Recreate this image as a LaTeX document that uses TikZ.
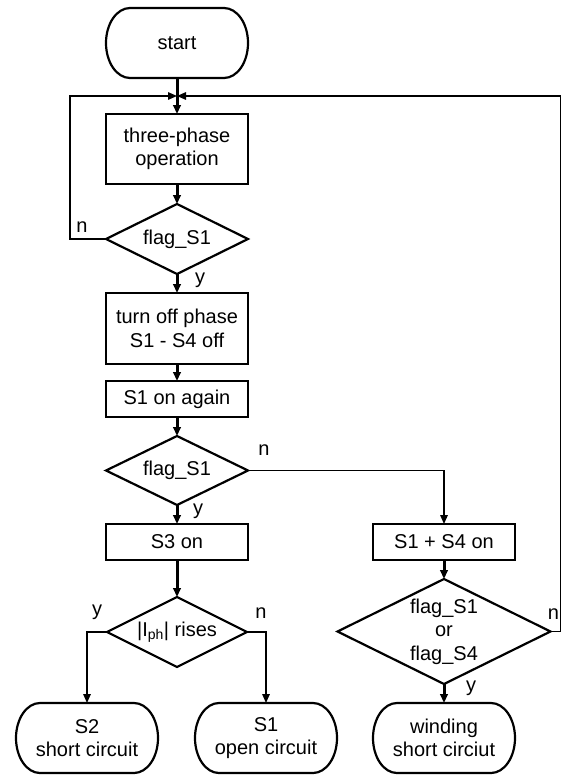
\documentclass[tikz,border=0pt]{standalone}
\usepackage{fontspec}
\setmainfont{Liberation Sans}
\usetikzlibrary{positioning,shapes.geometric,arrows.meta}
\tikzset{box node/.style={rectangle, draw, line width=1.8pt, outer sep=0pt, minimum width=142pt, minimum height=36pt, align=center, inner sep=2pt},
  term node/.style={rectangle, outer sep=0pt, minimum width=142pt, minimum height=70pt, align=center,
    append after command={\pgfextra{\draw[line width=2.2pt]
      ([xshift=-47pt]\tikzlastnode.north) -- ([xshift=47pt]\tikzlastnode.north)
      arc[start angle=90, end angle=-90, x radius=24pt, y radius=35pt]
      -- ([xshift=-47pt]\tikzlastnode.south)
      arc[start angle=270, end angle=90, x radius=24pt, y radius=35pt] -- cycle;}}},
  dec node/.style={diamond, draw, line width=2.2pt, outer sep=0pt, aspect=2, inner sep=0pt, minimum width=142pt, minimum height=70pt, align=center},
  flow/.style={-{Triangle[length=9pt,width=7.5pt]}, line width=3pt},
  branch/.style={-{Triangle[length=9pt,width=7.5pt]}, line width=1.5pt},
  lbl/.style={inner sep=0pt},}

\begin{document}
\begin{tikzpicture}[font=\fontsize{20}{23.5}\selectfont]
        \useasboundingbox (0,0) rectangle (563pt,-776pt);
        % Nodes
        \node[term node] (start) at (177pt,-43pt) {start};
        \coordinate[below = 18pt of start] (jn);
        \node[box node, minimum height=70pt] [below = 36pt of start] (three) {three-phase\\operation};
        \node[dec node] [below = 20pt of three] (flag1) {flag\_S1};
        \node[box node, minimum height=71pt] [below = 19pt of flag1] (off) {turn off phase\\S1 - S4 off};
        \node[box node] [below = 17pt of off] (again) {S1 on again};
        \node[dec node, minimum height=69pt] [below = 19pt of again] (flag2) {flag\_S1};
        \node[box node] [below = 19pt of flag2] (sthree) {S3 on};
        \node[dec node, minimum width=140pt] [below = 37pt of sthree] (rises) {|I\textsubscript{ph}| rises};
        \node[term node, xshift=-90pt] [below = 36pt of rises] (stwo) {S2\\short circuit};
        \node[term node, xshift=89pt] [below = 36pt of rises] (sone) {S1\\open circuit};
        \node[box node] [right = 125pt of sthree] (sfour) {S1 + S4 on};
        \node[dec node, minimum width=213pt, minimum height=105pt] [below = 19pt of sfour] (flag4) {flag\_S1\\or\\flag\_S4};
        \node[term node] [below = 19pt of flag4] (wind) {winding\\short circiut};
        % Labels
        \node[lbl] (n1) at ([shift={(-24pt,12pt)}]flag1.west) {n};
        \node[lbl] (y1) at ([shift={(23pt,-6pt)}]flag1.south) {y};
        \node[lbl] (n2) at ([shift={(16pt,20pt)}]flag2.east) {n};
        \node[lbl] (y2) at ([shift={(21pt,-6pt)}]flag2.south) {y};
        \node[lbl] (y3) at ([shift={(-10pt,20pt)}]rises.west) {y};
        \node[lbl] (n3) at ([shift={(14pt,19pt)}]rises.east) {n};
        \node[lbl] (n4) at ([shift={(3pt,17pt)}]flag4.east) {n};
        \node[lbl] (y4) at ([shift={(27pt,-4pt)}]flag4.south) {y};
        % Paths
        \path[flow]
        (start) edge (three)
        (three) edge (flag1)
        (flag1) edge (off)
        (off) edge (again)
        (again) edge (flag2)
        (flag2) edge (sthree)
        (sthree) edge (rises)
        (sfour) edge (flag4)
        (flag4) edge (wind);
        \draw[branch] (flag1.west) -- ++(-36pt,0) |- (jn);
        \draw[branch] (flag4.east) -- ++(10pt,0) |- (jn);
        \draw[branch] (flag2.east) -| (sfour);
        \draw[branch] (rises.west) -| (stwo);
        \draw[branch] (rises.east) -| (sone);
    \end{tikzpicture}
\end{document}
